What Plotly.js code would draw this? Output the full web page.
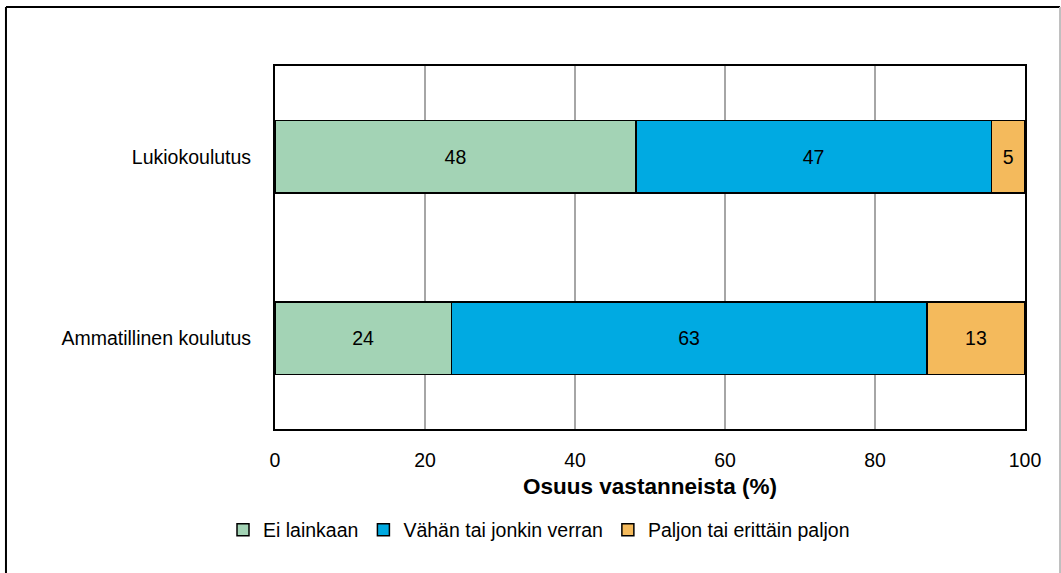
<!DOCTYPE html>
<html>
<head>
<meta charset="utf-8">
<script src="https://cdn.plot.ly/plotly-3.0.1.min.js"></script>
<style>
html,body{margin:0;padding:0;background:#fff;}
#chart{width:1061px;height:573px;}
</style>
</head>
<body>
<div id="chart"></div>
<script>
const categories = ["Lukiokoulutus", "Ammatillinen koulutus"];
const seriesNames = ["Ei lainkaan", "Vähän tai jonkin verran", "Paljon tai erittäin paljon"];
const eiLainkaan = [48.1, 23.5];
const vahanTaiJonkin = [47.4, 63.4];
const paljonTaiErittain = [4.5, 13.1];
const eiLainkaanLabels = ["48", "24"];
const vahanLabels = ["47", "63"];
const paljonLabels = ["5", "13"];
const xTicks = [0, 20, 40, 60, 80, 100];
const colors = ["#A3D3B5", "#00AAE2", "#F4BA5C"];

const values = [eiLainkaan, vahanTaiJonkin, paljonTaiErittain];
const labels = [eiLainkaanLabels, vahanLabels, paljonLabels];
const font = "Liberation Sans, Arial, sans-serif";
const fs = 19.5;

const traces = values.map((v, i) => ({
  type: "bar",
  orientation: "h",
  name: seriesNames[i],
  x: v,
  y: categories,
  text: labels[i],
  texttemplate: "%{text}",
  textposition: "inside",
  insidetextanchor: "middle",
  textangle: 0,
  constraintext: "none",
  textfont: {family: font, size: fs, color: "#000"},
  marker: {color: colors[i], line: {color: "#000", width: 1.5}},
  hoverinfo: "skip"
}));

const layout = {
  width: 1061, height: 573,
  margin: {l: 275, r: 36, t: 66, b: 144},
  paper_bgcolor: "#fff", plot_bgcolor: "#fff",
  barmode: "stack",
  bargap: 0.6,
  showlegend: true,
  font: {family: font, size: fs, color: "#000"},
  xaxis: {
    range: [0, 100],
    tickvals: xTicks,
    ticktext: xTicks.map(String),
    showgrid: true, gridcolor: "#A6A6A6", gridwidth: 1.5,
    zeroline: false,
    showline: true, linecolor: "#000", linewidth: 2, mirror: true,
    ticks: "", ticklabelstandoff: 13,
    tickfont: {family: font, size: fs, color: "#000"},
    title: {text: "<b>Osuus vastanneista (%)</b>", font: {family: font, size: 22.5, color: "#000"}, standoff: 8}
  },
  yaxis: {
    type: "category",
    categoryorder: "array", categoryarray: categories,
    range: [1.5, -0.5],
    showgrid: false, zeroline: false,
    showline: true, linecolor: "#000", linewidth: 2, mirror: true,
    ticks: "", ticklabelstandoff: 18,
    tickfont: {family: font, size: fs, color: "#000"}
  },
  legend: {
    orientation: "h",
    x: 0.352, xanchor: "center",
    y: -0.225, yanchor: "top",
    font: {family: font, size: fs, color: "#000"},
    itemwidth: 30,
    traceorder: "normal",
    tracegroupgap: 0
  },
  shapes: [
    {type: "line", xref: "paper", yref: "paper", x0: -0.3587, x1: -0.3587, y0: 1.1625, y1: -0.45, line: {color: "#000", width: 2}},
    {type: "line", xref: "paper", yref: "paper", x0: -0.3587, x1: 1.0467, y0: 1.1625, y1: 1.1625, line: {color: "#000", width: 2}},
    {type: "line", xref: "paper", yref: "paper", x0: 1.0467, x1: 1.0467, y0: 1.1625, y1: -0.45, line: {color: "#BFBFBF", width: 2}}
  ]
};

Plotly.newPlot("chart", traces, layout, {displayModeBar: false, staticPlot: true});
</script>
</body>
</html>
